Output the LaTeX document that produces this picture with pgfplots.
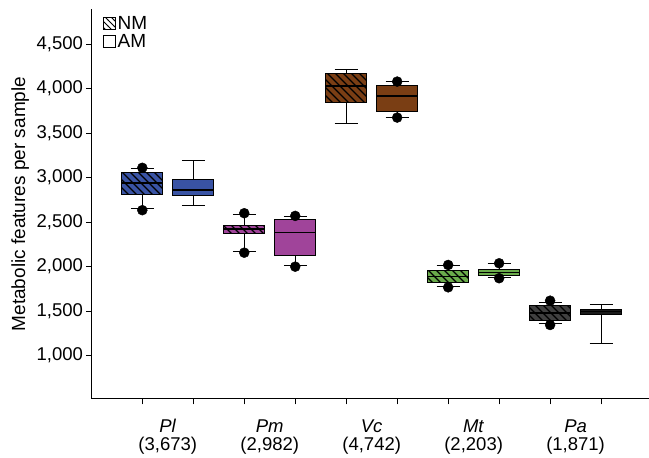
\documentclass[border=0pt]{standalone}
\usepackage{fontspec}
\setmainfont{Liberation Sans}
\usepackage{pgfplots}
\pgfplotsset{compat=1.18}
\usetikzlibrary{patterns}

\pgfdeclarepatternformonly{hatchNW}{\pgfqpoint{-1pt}{-1pt}}{\pgfqpoint{9pt}{9pt}}{\pgfqpoint{8pt}{8pt}}{%
  \pgfsetlinewidth{1.1pt}%
  \pgfpathmoveto{\pgfqpoint{-0.1pt}{8.1pt}}%
  \pgfpathlineto{\pgfqpoint{8.1pt}{-0.1pt}}%
  \pgfusepath{stroke}}
\pgfdeclarepatternformonly{hatchLeg}{\pgfqpoint{-1pt}{-1pt}}{\pgfqpoint{7pt}{7pt}}{\pgfqpoint{6pt}{6pt}}{%
  \pgfsetlinewidth{0.9pt}%
  \pgfpathmoveto{\pgfqpoint{-0.1pt}{6.1pt}}%
  \pgfpathlineto{\pgfqpoint{6.1pt}{-0.1pt}}%
  \pgfusepath{stroke}}

\definecolor{cPl}{HTML}{3953A4}
\definecolor{cPm}{HTML}{A0449A}
\definecolor{cVc}{HTML}{7A3E14}
\definecolor{cMt}{HTML}{6AAB4B}
\definecolor{cPaN}{HTML}{404040}
\definecolor{cPaA}{HTML}{1A1A1A}

\tikzset{hatch/.style={postaction={pattern=hatchNW, pattern color=black}}}

% position, fill colour, extra style, lower whisker, lower quartile, median, upper quartile, upper whisker
\newcommand\bx[8]{%
  \pgfmathsetmacro\bxl{#1-0.4}\pgfmathsetmacro\bxr{#1+0.4}%
  \pgfmathsetmacro\cxl{#1-0.225}\pgfmathsetmacro\cxr{#1+0.225}%
  \addplot[black, line width=1pt] coordinates {(#1,#4) (#1,#5)};
  \addplot[black, line width=1pt] coordinates {(#1,#7) (#1,#8)};
  \addplot[black, line width=1pt] coordinates {(\cxl,#4) (\cxr,#4)};
  \addplot[black, line width=1pt] coordinates {(\cxl,#8) (\cxr,#8)};
  \addplot[draw=black, line width=1pt, fill=#2, #3] coordinates {(\bxl,#5) (\bxr,#5) (\bxr,#7) (\bxl,#7)} -- cycle;
  \addplot[black, line width=1.5pt] coordinates {(\bxl,#6) (\bxr,#6)};
}

\begin{document}
\begin{tikzpicture}
\useasboundingbox (-92pt,-59pt) rectangle (557pt,399pt);
\begin{axis}[
  scale only axis,
  width=557pt, height=390pt,
  xmin=0.013, xmax=10.94,
  ymin=514, ymax=4893,
  axis x line*=bottom, axis y line*=left,
  axis line style={line width=1pt},
  tick align=outside,
  major tick length=5.5pt,
  tick style={black, line width=0.9pt},
  xtick={1,2,...,10}, xticklabels={},
  extra x ticks={1.5,3.5,5.5,7.5,9.5},
  extra x tick labels={{\textit{Pl}\\(3,673)},{\textit{Pm}\\(2,982)},{\textit{Vc}\\(4,742)},{\textit{Mt}\\(2,203)},{\textit{Pa}\\(1,871)}},
  extra x tick style={major tick length=0pt, tick label style={align=center, yshift=-17pt, font=\fontsize{18.5}{18}\selectfont}},
  ytick={1000,1500,...,4500},
  /pgf/number format/assume math mode=true,
  /pgf/number format/1000 sep={,},
  tick label style={font=\fontsize{18.5}{18}\selectfont},
  ylabel={Metabolic features per sample},
  ylabel style={font=\fontsize{19}{22}\selectfont, at={(axis description cs:-0.129,0.5)}, anchor=center},
  clip=false,
  legend style={draw=none, fill=none, at={(0.02,0.985)}, anchor=north west, inner sep=0pt,
    row sep=0pt, font=\fontsize{19}{20}\selectfont, nodes={inner sep=1.5pt}},
  legend cell align=left,
  legend image code/.code={\draw[#1,line width=0.9pt] (0pt,-6pt) rectangle (12pt,6pt);},
]
\addlegendimage{draw=black, pattern=hatchLeg, pattern color=black}
\addlegendimage{draw=black, fill=white}
\legend{NM,AM}

\bx{1}{cPl}{hatch}{2648}{2813}{2937}{3061}{3098}
\bx{2}{cPl}{}{2682}{2798}{2862}{2974}{3191}
\bx{3}{cPm}{hatch}{2172}{2367}{2420}{2461}{2584}
\bx{4}{cPm}{}{2008}{2128}{2382}{2525}{2558}
\bx{5}{cVc}{hatch}{3611}{3847}{4030}{4165}{4210}
\bx{6}{cVc}{}{3680}{3738}{3915}{4034}{4075}
\bx{7}{cMt}{hatch}{1775}{1820}{1888}{1952}{2011}
\bx{8}{cMt}{}{1875}{1903}{1937}{1966}{2030}
\bx{9}{cPaN}{hatch}{1365}{1398}{1480}{1562}{1596}
\bx{10}{cPaA}{}{1139}{1465}{1495}{1521}{1573}

\addplot[only marks, mark=*, mark size=5pt, black, mark options={fill=black}] coordinates {
  (1,3110) (1,2634)
  (3,2600) (3,2157)
  (4,2570) (4,2000)
  (6,4078) (6,3674)
  (7,2019) (7,1768)
  (8,2038) (8,1870)
  (9,1618) (9,1345)
};
\end{axis}
\end{tikzpicture}
\end{document}
